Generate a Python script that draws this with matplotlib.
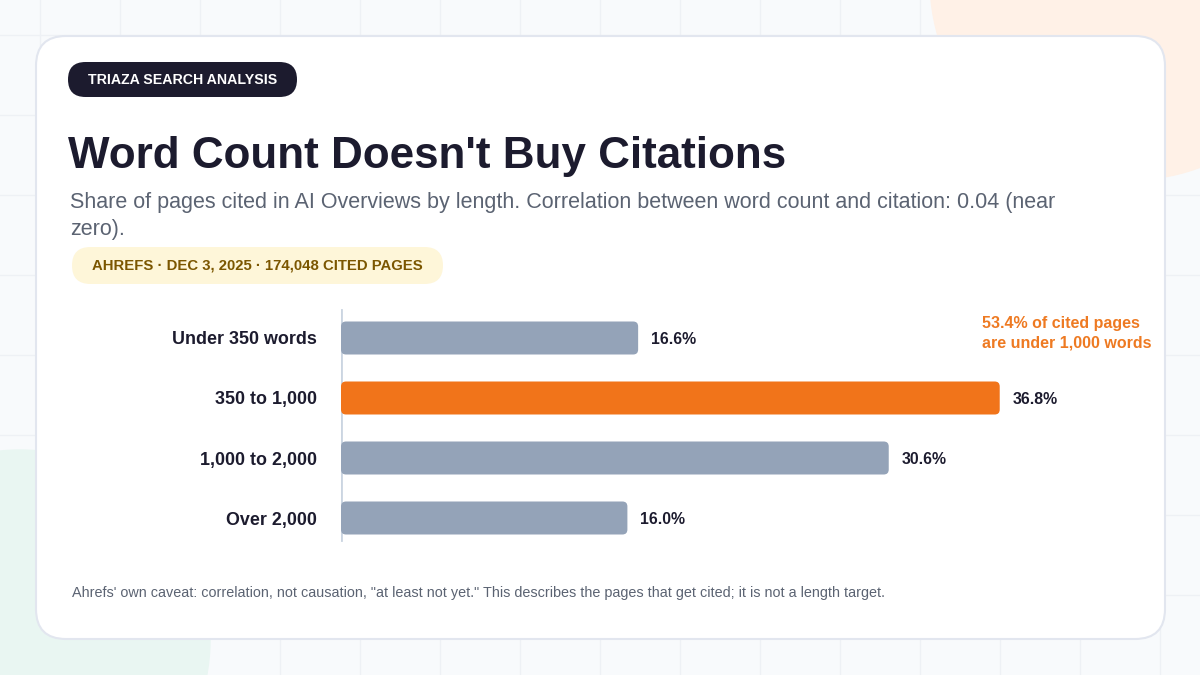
import numpy as np
import matplotlib.pyplot as plt
from matplotlib.patches import FancyBboxPatch, Circle

plt.rcParams['font.family'] = ['Liberation Sans', 'DejaVu Sans']

# data
categories = ["Under 350 words", "350 to 1,000", "1,000 to 2,000", "Over 2,000"]
shares = [16.6, 36.8, 30.6, 16.0]
highlight = "350 to 1,000"

title = "Word Count Doesn't Buy Citations"
subtitle = ("Share of pages cited in AI Overviews by length. Correlation between word count and citation: 0.04 (near\nzero).")
badge = "TRIAZA SEARCH ANALYSIS"
source = "AHREFS · DEC 3, 2025 · 174,048 CITED PAGES"
note = "53.4% of cited pages\nare under 1,000 words"
footer = ("Ahrefs' own caveat: correlation, not causation, \"at least not yet.\" "
          "This describes the pages that get cited; it is not a length target.")

W, H = 1200, 675
fig = plt.figure(figsize=(12, 6.75), dpi=100)
fig.patch.set_facecolor('#f8fafc')

# background layer in pixel coordinates
bg = fig.add_axes([0, 0, 1, 1])
bg.set_xlim(0, W)
bg.set_ylim(H, 0)
bg.axis('off')
for gx in range(40, W, 80):
    bg.plot([gx, gx], [0, H], color='#eef1f5', lw=1, zorder=0)
for gy in range(35, H, 80):
    bg.plot([0, W], [gy, gy], color='#eef1f5', lw=1, zorder=0)
bg.add_patch(Circle((1130, -20), 200, color='#fff1e7', zorder=1))
bg.add_patch(Circle((20, 640), 190, color='#e9f6f2', zorder=1))

# card
bg.add_patch(FancyBboxPatch((36, 36), 1129, 603, boxstyle="round,pad=0,rounding_size=30",
                            facecolor='white', edgecolor='#e2e6ef', lw=1.5, zorder=2))

# badge
bg.add_patch(FancyBboxPatch((68, 62), 229, 35, boxstyle="round,pad=0,rounding_size=17.5",
                            facecolor='#1c1b2e', edgecolor='none', zorder=3))
bg.text(182.5, 79.5, badge, color='white', fontsize=10.2, fontweight='bold',
        ha='center', va='center', zorder=4)

bg.text(68, 168, title, color='#1c1b2e', fontsize=31.7, fontweight='bold',
        ha='left', va='baseline', zorder=4)
sub1, sub2 = subtitle.split('\n')
bg.text(70, 208, sub1, color='#5b6372', fontsize=15.5, ha='left', va='baseline', zorder=4)
bg.text(70, 235, sub2, color='#5b6372', fontsize=15.5, ha='left', va='baseline', zorder=4)

bg.add_patch(FancyBboxPatch((72, 247), 371, 37, boxstyle="round,pad=0,rounding_size=18.5",
                            facecolor='#fef6d9', edgecolor='none', zorder=3))
bg.text(257.5, 265.5, source, color='#7b5600', fontsize=10.7, fontweight='bold',
        ha='center', va='center', zorder=4)

bg.text(982, 333, note, color='#ee7a22', fontsize=11.5, fontweight='bold',
        ha='left', va='center', linespacing=1.4, zorder=4)

bg.text(72, 593, footer, color='#5b6372', fontsize=10.4, ha='left', va='center', zorder=4)

# chart axes: x starts at 341px, 17.9px per percent; rows 60px apart
px_per = 17.9
ax_left, ax_w = 341, 800
ax_top, ax_h = 308, 240
ax = fig.add_axes([ax_left / W, 1 - (ax_top + ax_h) / H, ax_w / W, ax_h / H])
ax.set_xlim(0, ax_w / px_per)
ax.set_ylim(len(categories) - 0.5, -0.5)
ax.patch.set_alpha(0)
for s in ax.spines.values():
    s.set_visible(False)
ax.tick_params(left=False, bottom=False, labelbottom=False)
ax.set_yticks(range(len(categories)))
ax.set_yticklabels(categories, fontsize=12.9, fontweight='bold', color='#1c1b2e')
ax.tick_params(axis='y', pad=14)
ax.axvline(0, ymin=8 / 240, ymax=1 - 2 / 240, color='#cbd5e1', lw=2, zorder=1)

colors = ['#f1741a' if c == highlight else '#94a3b8' for c in categories]
bars = ax.barh(categories, shares, height=0.55, color=colors)
rx = 5 / px_per
ry = 5 / 60
for rect, c in zip(bars, colors):
    x0, y0 = rect.get_x(), rect.get_y()
    w, h = rect.get_width(), rect.get_height()
    rect.set_visible(False)
    ax.add_patch(FancyBboxPatch((x0, y0), w, h,
                                boxstyle=f"round,pad=0,rounding_size={rx}",
                                mutation_aspect=ry / rx, facecolor=c, edgecolor='none', zorder=2))
for i, v in enumerate(shares):
    ax.text(v + 13 / px_per, i, f"{v:.1f}%", va='center_baseline', ha='left', fontsize=11.4,
            fontweight='bold', color='#1c1b2e')

fig.savefig('out.png', dpi=100, facecolor=fig.get_facecolor())
